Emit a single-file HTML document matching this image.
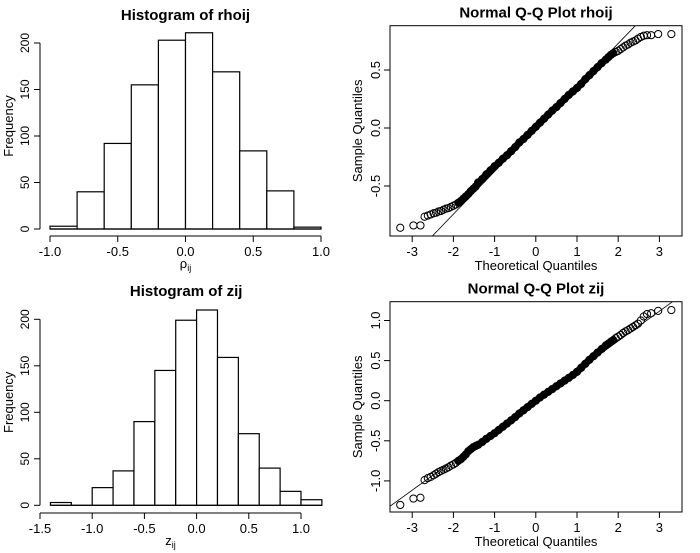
<!DOCTYPE html>
<html><head><meta charset="utf-8"><style>
html,body{margin:0;padding:0;background:#fff;}
svg{display:block;font-family:"Liberation Sans",Arial,sans-serif;}
</style></head><body>
<svg id="c" width="700" height="553" viewBox="0 0 700 553" xmlns="http://www.w3.org/2000/svg"></svg>
<script>
// ---- data ----
const rhoBreaks = [-1.0,-0.8,-0.6,-0.4,-0.2,0.0,0.2,0.4,0.6,0.8,1.0];
const rhoCounts = [3,40,92,155,203,211,169,84,41,2];
const zBreaks = [-1.4,-1.2,-1.0,-0.8,-0.6,-0.4,-0.2,0.0,0.2,0.4,0.6,0.8,1.0,1.2];
const zCounts = [3,0,19,37,90,145,199,210,159,77,40,15,6];
const histYTicks = [0,50,100,150,200];
const rhoXTicks = [-1.0,-0.5,0.0,0.5,1.0];
const zXTicks = [-1.5,-1.0,-0.5,0.0,0.5,1.0];
const qqXTicks = [-3,-2,-1,0,1,2,3];
const rhoQQYTicks = [-0.5,0.0,0.5];
const zQQYTicks = [-1.0,-0.5,0.0,0.5,1.0];
const theo = [-3.29,-2.97,-2.8,-2.7,-2.62,-2.55,-2.48,-2.42,-2.36,-2.3,-2.24,-2.18,-2.12,-2.06,-2.0,-1.94,-1.88,-1.82,-1.76,-1.7,-1.64,-1.58,-1.52,-1.46,
 -1.4,-1.3,-1.2,-1.1,-1.0,-0.9,-0.8,-0.7,-0.6,-0.5,-0.4,-0.3,-0.2,-0.1,0,0.1,0.2,0.3,0.4,0.5,0.6,0.7,0.8,0.9,1.0,1.1,1.2,1.3,1.4,1.5,1.6,1.7,
 1.76,1.82,1.88,1.94,2.0,2.06,2.12,2.18,2.24,2.3,2.36,2.42,2.48,2.55,2.62,2.7,2.8,2.97,3.29];
const rhoSample = [-0.86,-0.84,-0.84,-0.765,-0.755,-0.745,-0.735,-0.73,-0.72,-0.715,-0.705,-0.695,-0.69,-0.68,-0.67,-0.66,-0.645,-0.63,-0.61,-0.59,-0.57,-0.545,-0.525,-0.505,
 -0.47,-0.44,-0.40,-0.365,-0.33,-0.30,-0.265,-0.235,-0.20,-0.165,-0.125,-0.095,-0.06,-0.025,0.01,0.045,0.08,0.115,0.15,0.18,0.215,0.25,0.285,0.315,0.345,0.38,0.42,0.455,0.49,0.525,0.56,0.59,
 0.61,0.63,0.645,0.655,0.665,0.68,0.695,0.71,0.72,0.735,0.745,0.755,0.77,0.785,0.795,0.80,0.80,0.81,0.81];
const zSample = [-1.30,-1.22,-1.21,-0.99,-0.965,-0.95,-0.93,-0.91,-0.89,-0.875,-0.86,-0.845,-0.83,-0.81,-0.795,-0.775,-0.75,-0.73,-0.70,-0.67,-0.63,-0.605,-0.58,-0.565,
 -0.55,-0.515,-0.475,-0.44,-0.405,-0.365,-0.325,-0.285,-0.245,-0.205,-0.16,-0.12,-0.08,-0.04,0.0,0.04,0.075,0.11,0.145,0.18,0.215,0.25,0.285,0.32,0.36,0.41,0.46,0.51,0.555,0.60,0.645,0.69,
 0.71,0.735,0.755,0.78,0.80,0.82,0.845,0.865,0.88,0.90,0.92,0.94,0.96,1.00,1.05,1.08,1.09,1.12,1.13];
const rhoLine = [-0.007,0.368]; // intercept, slope
const zLine = [0.0,0.372];

const NS="http://www.w3.org/2000/svg";
const svg=document.getElementById('c');
function el(tag,attrs,parent){const e=document.createElementNS(NS,tag);for(const k in attrs)e.setAttribute(k,attrs[k]);(parent||svg).appendChild(e);return e;}
function txt(s,x,y,size,opts,parent){const t=el('text',Object.assign({x:x,y:y,'font-size':size,'text-anchor':'middle',fill:'#000'},opts||{}),parent);t.textContent=s;return t;}

function hist(name,title,titleY,breaks,counts,xt,x0v,x0p,xs,y0p,ys,yAxX,xAxY,xlab){
  const g=el('g',{});
  
  
  const X=v=>x0p+(v-x0v)*xs, Y=v=>y0p-v*ys;
  const t=txt(title,(X(breaks[0])+X(breaks[breaks.length-1]))/2,titleY,15,{'font-weight':'bold'},g);
  
  counts.forEach((c,i)=>{
    const r=el('rect',{x:X(breaks[i]),y:Y(c),width:X(breaks[i+1])-X(breaks[i]),height:Math.max(Y(0)-Y(c),0.01),fill:'#fff',stroke:'#000','stroke-width':1.2},g);
    
    
  });
  el('line',{x1:X(breaks[0]),x2:X(breaks[breaks.length-1]),y1:Y(0),y2:Y(0),stroke:'#000','stroke-width':1.2},g);
  const ya=el('g',{},g);
  el('line',{x1:yAxX,x2:yAxX,y1:Y(histYTicks[0]),y2:Y(histYTicks[histYTicks.length-1]),stroke:'#000'},ya);
  histYTicks.forEach(v=>{el('line',{x1:yAxX-6,x2:yAxX,y1:Y(v),y2:Y(v),stroke:'#000'},ya);
    txt(String(v),0,0,12,{transform:`translate(${yAxX-11},${Y(v)}) rotate(-90)`},ya);});
  const yl=txt('Frequency',0,0,13,{transform:`translate(13,${(Y(0)+Y(200))/2-10}) rotate(-90)`},g);
  
  const xa=el('g',{},g);
  el('line',{x1:X(xt[0]),x2:X(xt[xt.length-1]),y1:xAxY,y2:xAxY,stroke:'#000'},xa);
  xt.forEach(v=>{el('line',{x1:X(v),x2:X(v),y1:xAxY,y2:xAxY+6,stroke:'#000'},xa);
    txt(v.toFixed(1),X(v),xAxY+20,13,{},xa);});
  const xl=txt(xlab[0],(X(xt[0])+X(xt[xt.length-1]))/2,xAxY+32,13,{},g);
  const sub=el('tspan',{'font-size':9,dy:3},xl);sub.textContent=xlab[1];
  
}

function qq(name,title,samp,line,yt,top,bot,y0p,ys){
  const g=el('g',{});
  
  
  const L=390,R=682,x0p=535.8,xs=41.2;
  const X=v=>x0p+v*xs, Y=v=>y0p-v*ys;
  const t=txt(title,536,top-8,15,{'font-weight':'bold'},g);
  
  el('defs',{},g).innerHTML=`<clipPath id="cp${name}"><rect x="${L}" y="${top}" width="${R-L}" height="${bot-top}"/></clipPath>`;
  const ln=el('line',{x1:X(-4),y1:Y(line[0]-4*line[1]),x2:X(4),y2:Y(line[0]+4*line[1]),stroke:'#000','stroke-width':0.8,'clip-path':`url(#cp${name})`},g);
  
  // dense band of overlapping points in the middle
  const pts=theo.map((q,i)=>[q,samp[i]]).filter(p=>p[0]>=-1.9&&p[0]<=1.9).map(p=>X(p[0])+','+Y(p[1])).join(' ');
  const band=el('polyline',{points:pts,fill:'none',stroke:'#000','stroke-width':7,'stroke-linejoin':'round','stroke-linecap':'round'},g);
  
  theo.forEach((q,i)=>{
    const c=el('circle',{cx:X(q),cy:Y(samp[i]),r:3.6,fill:'none',stroke:'#000','stroke-width':1},g);
    
    
  });
  const b=el('rect',{x:L,y:top,width:R-L,height:bot-top,fill:'none',stroke:'#000','stroke-width':1},g);
  
  const xa=el('g',{},g);
  qqXTicks.forEach(v=>{el('line',{x1:X(v),x2:X(v),y1:bot,y2:bot+6,stroke:'#000'},xa);
    txt(String(v),X(v),bot+20,13,{},xa);});
  el('line',{x1:X(-3),x2:X(3),y1:bot,y2:bot,stroke:'#000'},xa);
  const xl=txt('Theoretical Quantiles',536,bot+34,13,{},g);
  
  const ya=el('g',{},g);
  yt.forEach(v=>{el('line',{x1:L-6,x2:L,y1:Y(v),y2:Y(v),stroke:'#000'},ya);
    txt(v.toFixed(1),0,0,13,{transform:`translate(${L-10},${Y(v)}) rotate(-90)`},ya);});
  const yl=txt('Sample Quantiles',0,0,13,{transform:`translate(362,${(top+bot)/2}) rotate(-90)`},g);
  
}

hist('histogram-rhoij','Histogram of rhoij',20,rhoBreaks,rhoCounts,rhoXTicks,-1.0,50,135.5,229,0.93,40,236,['ρ','ij']);
hist('histogram-zij','Histogram of zij',296,zBreaks,zCounts,zXTicks,-1.5,40,104.4,505.3,0.93,40,513,['z','ij']);
qq('qq-plot-rhoij','Normal Q-Q Plot rhoij',rhoSample,rhoLine,rhoQQYTicks,25.7,236,128,116);
qq('qq-plot-zij','Normal Q-Q Plot zij',zSample,zLine,zQQYTicks,301.7,512,400.7,80.2);
</script>
</body></html>
